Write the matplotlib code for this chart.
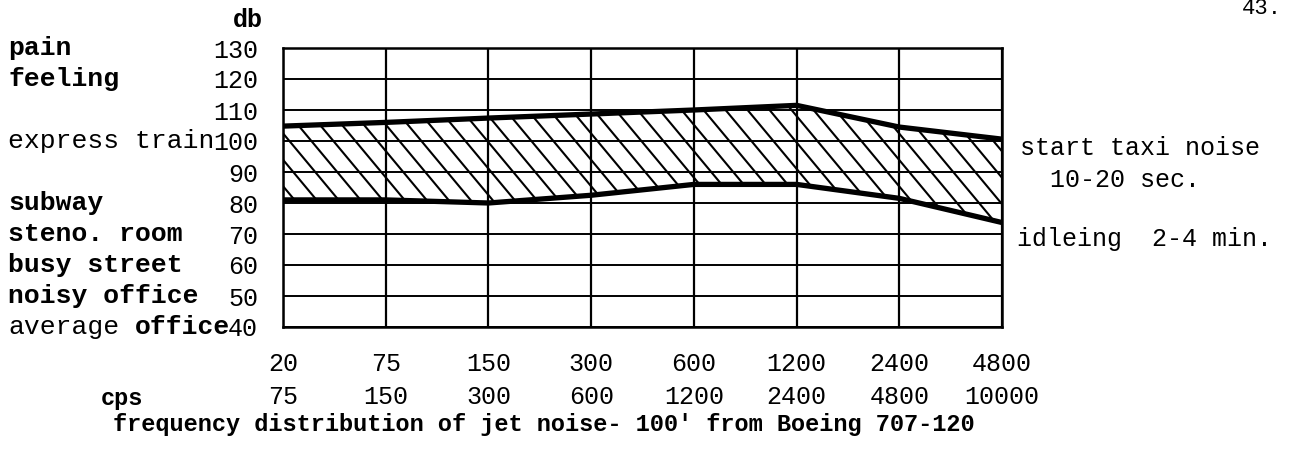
import numpy as np
import matplotlib
matplotlib.use("Agg")
import matplotlib.pyplot as plt
from matplotlib.collections import LineCollection
from matplotlib.patches import Polygon
from matplotlib.transforms import blended_transform_factory

plt.rcParams['font.family'] = ['Liberation Mono', 'DejaVu Sans Mono']

# frequency bands (cps), lower and upper limit of each band
band_low = ["20", "75", "150", "300", "600", "1200", "2400", "4800"]
band_high = ["75", "150", "300", "600", "1200", "2400", "4800", "10000"]

# db levels
start_taxi_db = [104.8, 106, 107.4, 108.7, 110, 111.5, 104.5, 100.6]
idle_db = [81, 81, 80, 82.5, 86, 86, 81.5, 73.7]

db_ticks = [130, 120, 110, 100, 90, 80, 70, 60, 50, 40]

# reference noises on the left
ref_names = ["pain", "feeling", "express train", "subway", "steno. room",
             "busy street", "noisy office", "average"]
ref_db = [130, 120, 100, 80, 70, 60, 50, 40]
ref_bold = [True, True, False, True, True, True, True, False]

W, H = 1292, 450
fig = plt.figure(figsize=(W / 100, H / 100), dpi=100)
ax = fig.add_axes([283 / W, 1 - 327 / H, (1002 - 283) / W, (327 - 48) / H])

x = np.arange(len(band_low))
ax.set_xlim(0, len(band_low) - 1)
ax.set_ylim(40, 130)

# grid
for d in db_ticks:
    ax.axhline(d, color="black", lw=1.4, zorder=2)
for xi in x:
    ax.axvline(xi, color="black", lw=1.6, zorder=2)
for s in ax.spines.values():
    s.set_linewidth(1.8)

# hatched band between the two curves
verts = list(zip(x, start_taxi_db)) + list(zip(x[::-1], idle_db[::-1]))
band = Polygon(verts, closed=True, facecolor="none", edgecolor="none",
               transform=ax.transData)
ax.add_patch(band)
px_x = (1002 - 283) / 7.0
px_db = (327 - 48) / 90.0
run = 50 * px_db / 1.2 / px_x
segs = [[(x0, 115), (x0 + run, 65)] for x0 in np.arange(-1.6, 7.3, 22 / px_x)]
hatch = LineCollection(segs, colors="black", linewidths=1.5, zorder=1)
ax.add_collection(hatch)
hatch.set_clip_path(band)

ax.plot(x, start_taxi_db, color="black", lw=3.8, zorder=3, solid_capstyle="butt")
ax.plot(x, idle_db, color="black", lw=3.8, zorder=3, solid_capstyle="butt")

ax.set_xticks([])
ax.set_yticks(db_ticks)
ax.set_yticklabels([str(d) for d in db_ticks], fontsize=18)
ax.tick_params(axis="y", length=0, pad=18)

# left labels
ty = blended_transform_factory(fig.transFigure, ax.transData)
for name, d, b in zip(ref_names, ref_db, ref_bold):
    ax.text(8 / W, d, name, transform=ty, fontsize=19, ha="left", va="center",
            fontweight="bold" if b else "normal")
ax.text(8 / W + 8 * 15.8 / W, 40, "office", transform=ty, fontsize=19,
        ha="left", va="center", fontweight="bold")
fig.text(248 / W, 1 - 20 / H, "db", fontsize=18, fontweight="bold",
         ha="center", va="center")

# bottom labels
tx = blended_transform_factory(ax.transData, fig.transFigure)
for xi, lo, hi in zip(x, band_low, band_high):
    ax.text(xi, 1 - 364 / H, lo, transform=tx, fontsize=18, ha="center", va="center")
    ax.text(xi, 1 - 397 / H, hi, transform=tx, fontsize=18, ha="center", va="center")
fig.text(122 / W, 1 - 399 / H, "cps", fontsize=17, fontweight="bold",
         ha="center", va="center")
fig.text(113 / W, 1 - 424 / H,
         "frequency distribution of jet noise- 100' from Boeing 707-120",
         fontsize=17, fontweight="bold", ha="left", va="center")

# right labels
fig.text(1020 / W, 1 - 148 / H, "start taxi noise", fontsize=18, ha="left", va="center")
fig.text(1050 / W, 1 - 180 / H, "10-20 sec.", fontsize=18, ha="left", va="center")
fig.text(1017 / W, 1 - 239 / H, "idleing  2-4 min.", fontsize=18, ha="left", va="center")

fig.text(1262 / W, 1 - 9 / H, "43.", fontsize=16, ha="center", va="center")

fig.savefig("out.png", dpi=100, facecolor="white")
